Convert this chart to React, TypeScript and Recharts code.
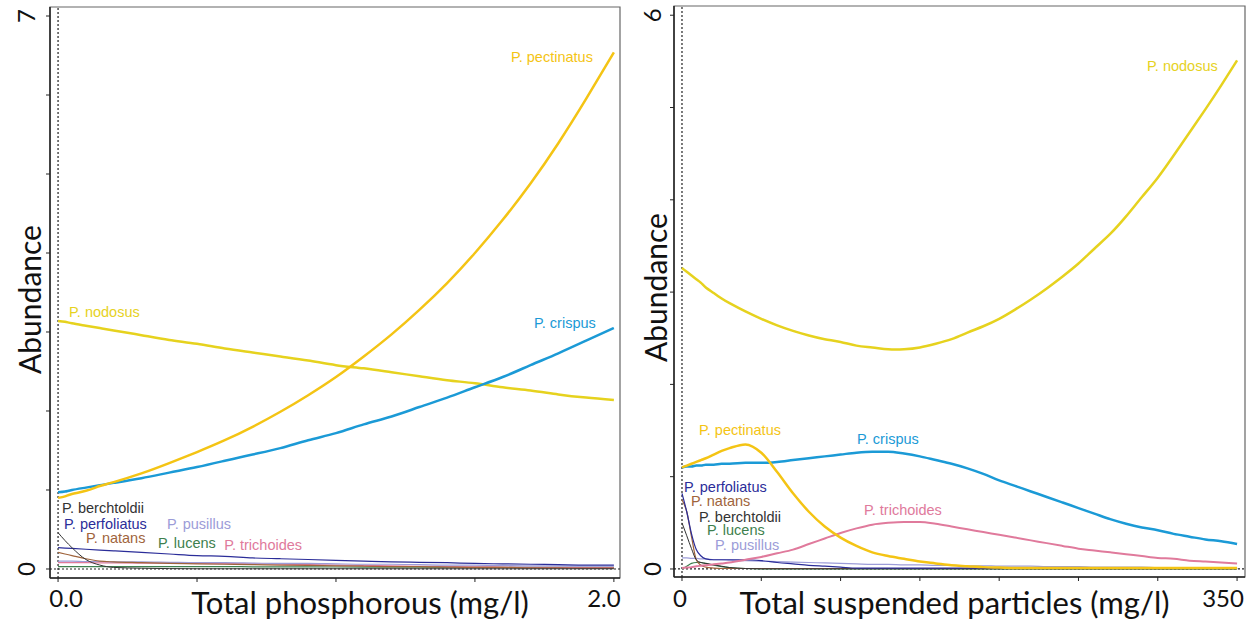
import { LineChart, Line, XAxis, YAxis, ReferenceLine, ReferenceArea, ReferenceDot, Label } from 'recharts';

// ---- left panel: total phosphorous (mg/l) ----
const tpX = [0, 0.025, 0.05, 0.1, 0.15, 0.2, 0.3, 0.4, 0.5, 0.6, 0.7, 0.8, 0.9, 1.0, 1.1, 1.2, 1.3, 1.4, 1.5, 1.6, 1.7, 1.8, 1.9, 2.0];
const tpPectinatus = [0.90, 0.92, 0.95, 0.99, 1.05, 1.10, 1.21, 1.34, 1.48, 1.63, 1.80, 1.99, 2.20, 2.43, 2.69, 2.97, 3.28, 3.62, 4.00, 4.42, 4.88, 5.39, 5.95, 6.54];
const tpCrispus = [0.97, 0.98, 1.00, 1.03, 1.06, 1.09, 1.15, 1.22, 1.29, 1.37, 1.45, 1.53, 1.63, 1.72, 1.83, 1.93, 2.05, 2.17, 2.30, 2.43, 2.58, 2.73, 2.89, 3.05];
const tpNodosus = [3.14, 3.13, 3.11, 3.08, 3.05, 3.02, 2.96, 2.90, 2.85, 2.79, 2.74, 2.69, 2.64, 2.58, 2.54, 2.49, 2.44, 2.39, 2.35, 2.30, 2.26, 2.21, 2.17, 2.14];
const tpBerchtoldii = [0.46, 0.36, 0.27, 0.12, 0.05, 0.02, 0.01, 0.005, 0.003, 0.003, 0.003, 0.003, 0.003, 0.003, 0.003, 0.003, 0.003, 0.003, 0.003, 0.003, 0.003, 0.003, 0.003, 0.003];
const tpPerfoliatus = [0.27, 0.265, 0.26, 0.25, 0.24, 0.23, 0.21, 0.19, 0.17, 0.16, 0.14, 0.13, 0.12, 0.11, 0.10, 0.09, 0.085, 0.08, 0.07, 0.065, 0.06, 0.055, 0.05, 0.05];
const tpNatans = [0.21, 0.19, 0.17, 0.13, 0.10, 0.09, 0.08, 0.07, 0.065, 0.06, 0.055, 0.05, 0.045, 0.04, 0.035, 0.03, 0.03, 0.025, 0.02, 0.02, 0.015, 0.015, 0.01, 0.01];
const tpPusillus = [0.10, 0.10, 0.10, 0.095, 0.095, 0.09, 0.09, 0.085, 0.08, 0.08, 0.075, 0.07, 0.07, 0.065, 0.06, 0.06, 0.055, 0.05, 0.05, 0.045, 0.04, 0.04, 0.035, 0.035];
const tpLucens = [0.03, 0.03, 0.03, 0.03, 0.03, 0.03, 0.03, 0.03, 0.03, 0.03, 0.028, 0.027, 0.026, 0.025, 0.024, 0.023, 0.022, 0.021, 0.02, 0.02, 0.02, 0.02, 0.02, 0.02];
const tpTrichoides = [0.08, 0.08, 0.08, 0.08, 0.078, 0.077, 0.075, 0.073, 0.07, 0.068, 0.065, 0.06, 0.055, 0.05, 0.045, 0.04, 0.035, 0.03, 0.028, 0.025, 0.022, 0.02, 0.018, 0.016];
const tpXTicks = [0, 0.5, 1, 1.5, 2];
const tpYTicks = [0, 1, 2, 3, 4, 5, 6, 7];

// ---- right panel: total suspended particles (mg/l) ----
const tsX = [0, 3, 6, 9, 12, 15, 20, 25, 30, 40, 50, 60, 70, 80, 90, 100, 110, 120, 130, 140, 150, 160, 170, 180, 190, 200, 210, 220, 230, 240, 250, 260, 270, 280, 290, 300, 310, 320, 330, 340, 350];
const tsNodosus = [3.26, 3.22, 3.18, 3.14, 3.10, 3.05, 2.99, 2.93, 2.88, 2.79, 2.71, 2.64, 2.58, 2.53, 2.49, 2.46, 2.42, 2.40, 2.38, 2.38, 2.40, 2.44, 2.49, 2.56, 2.63, 2.71, 2.81, 2.92, 3.04, 3.17, 3.31, 3.47, 3.63, 3.82, 4.03, 4.24, 4.48, 4.73, 4.98, 5.24, 5.51];
const tsPectinatus = [1.10, 1.12, 1.14, 1.16, 1.18, 1.20, 1.24, 1.28, 1.31, 1.35, 1.26, 1.05, 0.82, 0.62, 0.46, 0.34, 0.25, 0.18, 0.14, 0.11, 0.08, 0.06, 0.04, 0.03, 0.02, 0.015, 0.01, 0.01, 0.01, 0.01, 0.01, 0.01, 0.01, 0.01, 0.01, 0.01, 0.01, 0.01, 0.01, 0.01, 0.01];
const tsCrispus = [1.10, 1.11, 1.11, 1.12, 1.12, 1.13, 1.13, 1.14, 1.14, 1.15, 1.15, 1.16, 1.18, 1.20, 1.22, 1.24, 1.26, 1.27, 1.27, 1.25, 1.22, 1.18, 1.14, 1.09, 1.03, 0.96, 0.90, 0.84, 0.78, 0.72, 0.66, 0.60, 0.54, 0.49, 0.45, 0.42, 0.38, 0.35, 0.32, 0.30, 0.27];
const tsTrichoides = [0.01, 0.015, 0.02, 0.03, 0.035, 0.04, 0.05, 0.06, 0.07, 0.10, 0.13, 0.17, 0.21, 0.27, 0.33, 0.39, 0.44, 0.48, 0.50, 0.51, 0.51, 0.49, 0.46, 0.43, 0.40, 0.37, 0.34, 0.31, 0.28, 0.25, 0.22, 0.20, 0.18, 0.16, 0.14, 0.12, 0.11, 0.09, 0.08, 0.07, 0.06];
const tsPerfoliatus = [0.82, 0.62, 0.38, 0.21, 0.14, 0.11, 0.10, 0.10, 0.10, 0.10, 0.09, 0.07, 0.055, 0.04, 0.03, 0.02, 0.01, 0.01, 0.01, 0.01, 0.01, 0.01, 0.01, 0.01, 0.01, 0.01, 0.01, 0.01, 0.005, 0.005, 0.005, 0.005, 0.005, 0.005, 0.005, 0.005, 0.005, 0.005, 0.005, 0.005, 0.005];
const tsNatans = [0.75, 0.62, 0.35, 0.10, 0.04, 0.02, 0.01, 0.005, 0.005, 0.005, 0.005, 0.005, 0.005, 0.005, 0.005, 0.005, 0.005, 0.005, 0.005, 0.005, 0.005, 0.005, 0.005, 0.005, 0.005, 0.005, 0.005, 0.005, 0.005, 0.005, 0.005, 0.005, 0.005, 0.005, 0.005, 0.005, 0.005, 0.005, 0.005, 0.005, 0.005];
const tsBerchtoldii = [0.50, 0.36, 0.22, 0.10, 0.07, 0.06, 0.045, 0.03, 0.015, 0.005, 0.002, 0.002, 0.002, 0.002, 0.002, 0.002, 0.002, 0.002, 0.002, 0.002, 0.002, 0.002, 0.002, 0.002, 0.002, 0.002, 0.002, 0.002, 0.002, 0.002, 0.002, 0.002, 0.002, 0.002, 0.002, 0.002, 0.002, 0.002, 0.002, 0.002, 0.002];
const tsLucens = [0.0, 0.03, 0.06, 0.07, 0.07, 0.06, 0.04, 0.025, 0.015, 0.005, 0.002, 0.002, 0.002, 0.002, 0.002, 0.002, 0.002, 0.002, 0.002, 0.002, 0.002, 0.002, 0.002, 0.002, 0.002, 0.002, 0.002, 0.002, 0.002, 0.002, 0.002, 0.002, 0.002, 0.002, 0.002, 0.002, 0.002, 0.002, 0.002, 0.002, 0.002];
const tsPusillus = [0.12, 0.12, 0.115, 0.115, 0.11, 0.11, 0.10, 0.10, 0.095, 0.09, 0.085, 0.08, 0.075, 0.07, 0.065, 0.06, 0.055, 0.05, 0.05, 0.045, 0.045, 0.04, 0.04, 0.035, 0.035, 0.03, 0.03, 0.03, 0.025, 0.025, 0.025, 0.02, 0.02, 0.02, 0.02, 0.015, 0.015, 0.015, 0.015, 0.01, 0.01];
const tsXTicks = [0, 50, 100, 150, 200, 250, 300, 350];
const tsYTicks = [0, 1, 2, 3, 4, 5, 6];

const C = {
  pectinatus: '#F4C414',
  nodosus: '#E6D21E',
  crispus: '#1B9AD6',
  trichoides: '#E07A9C',
  perfoliatus: '#2B2D99',
  natans: '#A0643C',
  berchtoldii: '#333333',
  lucens: '#3E7F4E',
  pusillus: '#9C9CD8',
};

const NUM_FONT = 'Lato';
const LABEL_FONT = 'Liberation Sans';

type Series = { key: string; values: number[]; color: string; width: number; smooth?: boolean };
type Tag = { text: string; x: number; y: number; color: string };

const buildRows = (xs: number[], series: Series[]) =>
  xs.map((x, i) => {
    const row: Record<string, number> = { x };
    series.forEach((s) => (row[s.key] = s.values[i]));
    return row;
  });

const XTitle = (props: any) => {
  const { viewBox, text, dx } = props;
  return (
    <text x={viewBox.x + viewBox.width / 2 + dx} y={614} textAnchor="middle"
      fontFamily={NUM_FONT} fontSize={31} fill="#111">{text}</text>
  );
};

const YTitle = (props: any) => {
  const { viewBox, dy, bx } = props;
  const cy = viewBox.y + viewBox.height / 2 + dy;
  return (
    <text x={bx} y={cy} transform={`rotate(-90 ${bx} ${cy})`} textAnchor="middle"
      fontFamily={NUM_FONT} fontSize={30} fill="#111">Abundance</text>
  );
};

type PanelProps = {
  left: number;
  width: number;
  margin: { top: number; right: number };
  axisW: number;
  axisH: number;
  xs: number[];
  series: Series[];
  tags: Tag[];
  xDomain: [number, number];
  yDomain: [number, number];
  xTicks: number[];
  yTicks: number[];
  xTickText: Record<number, { text: string; dx: number }>;
  yTickText: Record<number, string>;
  yTickX: number;
  xTitle: string;
  xTitleDx: number;
  yTitleX: number;
  yTitleDy: number;
};

const Panel = (p: PanelProps) => {
  const rows = buildRows(p.xs, p.series);

  const xTick = (props: any) => {
    const lab = p.xTickText[props.payload.value];
    if (!lab) return <g />;
    return (
      <text x={props.x + lab.dx} y={607} textAnchor="middle" fontFamily={NUM_FONT} fontSize={24} fill="#111">
        {lab.text}
      </text>
    );
  };

  const yTick = (props: any) => {
    const lab = p.yTickText[props.payload.value];
    if (!lab) return <g />;
    return (
      <text x={p.yTickX} y={props.y} transform={`rotate(-90 ${p.yTickX} ${props.y})`} textAnchor="middle"
        fontFamily={NUM_FONT} fontSize={24} fill="#111">
        {lab}
      </text>
    );
  };

  return (
    <div style={{ position: 'absolute', left: p.left, top: 0 }}>
      <LineChart width={p.width} height={628} data={rows}
        margin={{ top: p.margin.top, right: p.margin.right, bottom: 0, left: 0 }}>
        <ReferenceArea x1={p.xDomain[0]} x2={p.xDomain[1]} y1={p.yDomain[0]} y2={p.yDomain[1]}
          fill="none" stroke="#666" strokeWidth={1.2} ifOverflow="visible" />
        <XAxis dataKey="x" type="number" domain={p.xDomain} ticks={p.xTicks} allowDataOverflow interval={0}
          height={p.axisH} tickSize={4} axisLine={{ stroke: '#222', strokeWidth: 1.5 }} tickLine={{ stroke: '#222' }} tick={xTick}>
          <Label content={<XTitle text={p.xTitle} dx={p.xTitleDx} />} />
        </XAxis>
        <YAxis type="number" domain={p.yDomain} ticks={p.yTicks} allowDataOverflow interval={0}
          width={p.axisW} tickSize={4} axisLine={{ stroke: '#222', strokeWidth: 1.5 }} tickLine={{ stroke: '#222' }} tick={yTick}>
          <Label content={<YTitle bx={p.yTitleX} dy={p.yTitleDy} />} />
        </YAxis>
        <ReferenceLine x={0} stroke="#222" strokeDasharray="2 2" strokeWidth={1.2} />
        <ReferenceLine y={0} stroke="#222" strokeDasharray="2 2" strokeWidth={1.2} />
        {p.series.map((s) => (
          <Line key={s.key} dataKey={s.key} type={s.smooth ? 'natural' : 'monotone'} stroke={s.color} strokeWidth={s.width}
            dot={false} activeDot={false} isAnimationActive={false} />
        ))}
        {p.tags.map((t) => (
          <ReferenceDot key={t.text} x={t.x} y={t.y} r={1} fill="none" stroke="none"
            label={{ value: t.text, position: 'right', offset: 0, fill: t.color, fontSize: 14.5, fontFamily: LABEL_FONT }} />
        ))}
      </LineChart>
    </div>
  );
};

const leftSeries: Series[] = [
  { key: 'lucens', values: tpLucens, color: C.lucens, width: 1.2 },
  { key: 'trichoides', values: tpTrichoides, color: C.trichoides, width: 1.2 },
  { key: 'pusillus', values: tpPusillus, color: C.pusillus, width: 1.2 },
  { key: 'natans', values: tpNatans, color: C.natans, width: 1.2 },
  { key: 'perfoliatus', values: tpPerfoliatus, color: C.perfoliatus, width: 1.2 },
  { key: 'berchtoldii', values: tpBerchtoldii, color: C.berchtoldii, width: 1 },
  { key: 'nodosus', values: tpNodosus, color: C.nodosus, width: 2.5, smooth: true },
  { key: 'crispus', values: tpCrispus, color: C.crispus, width: 2.5, smooth: true },
  { key: 'pectinatus', values: tpPectinatus, color: C.pectinatus, width: 2.5, smooth: true },
];

const leftTags: Tag[] = [
  { text: 'P. pectinatus', x: 1.626, y: 6.48, color: C.pectinatus },
  { text: 'P. nodosus', x: 0.036, y: 3.25, color: C.nodosus },
  { text: 'P. crispus', x: 1.709, y: 3.11, color: C.crispus },
  { text: 'P. berchtoldii', x: 0.011, y: 0.77, color: C.berchtoldii },
  { text: 'P. perfoliatus', x: 0.018, y: 0.57, color: C.perfoliatus },
  { text: 'P. pusillus', x: 0.388, y: 0.57, color: C.pusillus },
  { text: 'P. natans', x: 0.097, y: 0.39, color: C.natans },
  { text: 'P. lucens', x: 0.356, y: 0.33, color: C.lucens },
  { text: 'P. trichoides', x: 0.594, y: 0.3, color: C.trichoides },
];

const rightSeries: Series[] = [
  { key: 'pusillus', values: tsPusillus, color: C.pusillus, width: 1.2 },
  { key: 'lucens', values: tsLucens, color: C.lucens, width: 1.2 },
  { key: 'natans', values: tsNatans, color: C.natans, width: 1.2 },
  { key: 'berchtoldii', values: tsBerchtoldii, color: C.berchtoldii, width: 1 },
  { key: 'perfoliatus', values: tsPerfoliatus, color: C.perfoliatus, width: 1.2 },
  { key: 'trichoides', values: tsTrichoides, color: C.trichoides, width: 2 },
  { key: 'crispus', values: tsCrispus, color: C.crispus, width: 2.5 },
  { key: 'pectinatus', values: tsPectinatus, color: C.pectinatus, width: 2.5 },
  { key: 'nodosus', values: tsNodosus, color: C.nodosus, width: 2.5, smooth: true },
];

const rightTags: Tag[] = [
  { text: 'P. nodosus', x: 292.6, y: 5.45, color: C.nodosus },
  { text: 'P. pectinatus', x: 10.1, y: 1.51, color: C.pectinatus },
  { text: 'P. crispus', x: 109.7, y: 1.41, color: C.crispus },
  { text: 'P. trichoides', x: 114.1, y: 0.64, color: C.trichoides },
  { text: 'P. perfoliatus', x: 0.6, y: 0.89, color: C.perfoliatus },
  { text: 'P. natans', x: 5.0, y: 0.74, color: C.natans },
  { text: 'P. berchtoldii', x: 10.1, y: 0.57, color: C.berchtoldii },
  { text: 'P. lucens', x: 15.1, y: 0.42, color: C.lucens },
  { text: 'P. pusillus', x: 20.2, y: 0.26, color: C.pusillus },
];

export default function App() {
  return (
    <div style={{ position: 'absolute', left: 0, top: 0, width: 1255, height: 628, background: '#fff' }}>
      <Panel
        left={0}
        width={630}
        margin={{ top: 7, right: 10 }}
        axisW={50}
        axisH={50}
        xs={tpX}
        series={leftSeries}
        tags={leftTags}
        xDomain={[-0.029, 2.022]}
        yDomain={[-0.114, 7.114]}
        xTicks={tpXTicks}
        yTicks={tpYTicks}
        xTickText={{ 0: { text: '0.0', dx: 8 }, 2: { text: '2.0', dx: -10 } }}
        yTickText={{ 0: '0', 7: '7' }}
        yTickX={35}
        xTitle="Total phosphorous (mg/l)"
        xTitleDx={25}
        yTitleX={41}
        yTitleDy={7}
      />
      <Panel
        left={630}
        width={625}
        margin={{ top: 6, right: 10 }}
        axisW={44}
        axisH={51}
        xs={tsX}
        series={rightSeries}
        tags={rightTags}
        xDomain={[-5.04, 355.0]}
        yDomain={[-0.087, 6.1]}
        xTicks={tsXTicks}
        yTicks={tsYTicks}
        xTickText={{ 0: { text: '0', dx: -2 }, 350: { text: '350', dx: -14 } }}
        yTickText={{ 0: '0', 6: '6' }}
        yTickX={31}
        xTitle="Total suspended particles (mg/l)"
        xTitleDx={-5}
        yTitleX={37}
        yTitleDy={-4}
      />
    </div>
  );
}
